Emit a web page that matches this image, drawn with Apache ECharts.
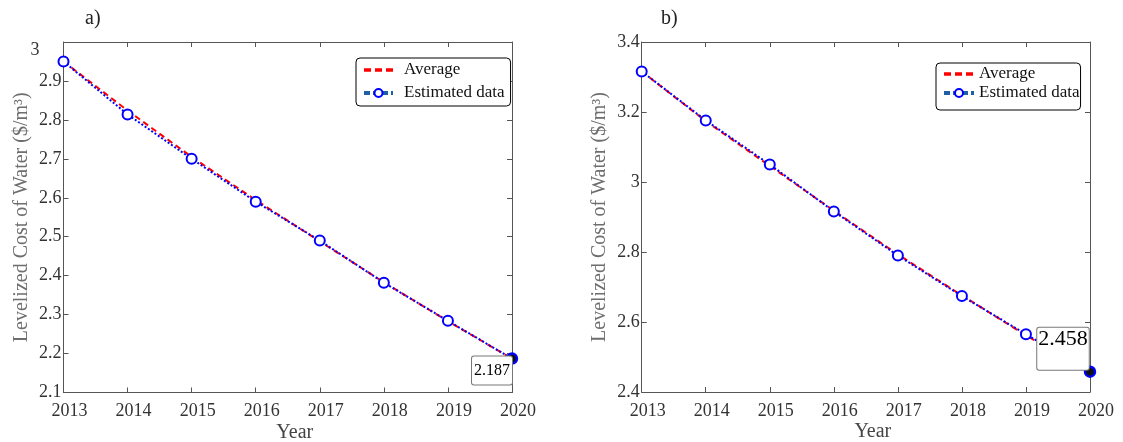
<!DOCTYPE html>
<html><head><meta charset="utf-8">
<script src="https://cdn.jsdelivr.net/npm/echarts@6/dist/echarts.min.js"></script>
<style>html,body{margin:0;padding:0;background:#fff}#c{width:1123px;height:442px}</style>
</head><body><div id="c"></div>
<script>
// ---- data ----
const years = [2013, 2014, 2015, 2016, 2017, 2018, 2019, 2020];
const aEstimated = [2.950, 2.814, 2.700, 2.590, 2.490, 2.382, 2.284, 2.187];
const aAverage   = [2.950, 2.824, 2.705, 2.594, 2.488, 2.383, 2.283, 2.187];
const bEstimated = [3.316, 3.176, 3.050, 2.916, 2.790, 2.674, 2.565, 2.458];
const bAverage   = [3.316, 3.174, 3.046, 2.918, 2.793, 2.676, 2.562, 2.458];
const aYRange = [2.1, 3.0, 0.1];
const bYRange = [2.4, 3.4, 0.2];
const panelLabels = ['a)', 'b)'];
const annotations = ['2.187', '2.458'];
const seriesNames = ['Average', 'Estimated data'];
const xName = 'Year';
const yName = 'Levelized Cost of Water ($/m³)';

// ---- chart ----
const FONT = "'Liberation Serif', 'DejaVu Serif', serif";
const AX = '#555';
const chart = echarts.init(document.getElementById('c'), null, {renderer: 'canvas'});

const grids = [
  {left: 63.5, top: 42, width: 448.5, height: 350.5, outerBoundsMode: 'none', containLabel: false},
  {left: 641.7, top: 42, width: 448.3, height: 350, outerBoundsMode: 'none', containLabel: false}
];
const panels = [
  {est: aEstimated, avg: aAverage, yr: aYRange, ann: annotations[0]},
  {est: bEstimated, avg: bAverage, yr: bYRange, ann: annotations[1]}
];

const xAxis = [], yAxis = [], series = [];
panels.forEach((p, i) => {
  const base = {
    gridIndex: i, type: 'value', min: years[0], max: years[years.length - 1], interval: 1,
    axisLine: {show: true, onZero: false, lineStyle: {color: AX, width: 1}},
    axisTick: {show: true, inside: true, length: 5, lineStyle: {color: AX}},
    splitLine: {show: false}
  };
  xAxis.push(Object.assign({}, base, {
    position: 'bottom',
    axisLabel: {fontFamily: FONT, fontSize: 18, color: '#333', margin: 10, padding: [0, 0, 0, 12],
      formatter: v => String(v)},
    name: xName, nameLocation: 'middle', nameGap: 30, nameMoveOverlap: false,
    nameTextStyle: {fontFamily: FONT, fontSize: 20, color: '#444', padding: [0, 0, 0, 14]}
  }));
  xAxis.push(Object.assign({}, base, {position: 'top', axisLabel: {show: false}}));
  const ybase = {
    gridIndex: i, type: 'value', min: p.yr[0], max: p.yr[1], interval: p.yr[2],
    axisLine: {show: true, onZero: false, lineStyle: {color: AX, width: 1}},
    axisTick: {show: true, inside: true, length: 5, lineStyle: {color: AX}},
    splitLine: {show: false}
  };
  const isA = i === 0;
  yAxis.push(Object.assign({}, ybase, {
    position: 'left',
    axisLabel: {fontFamily: FONT, fontSize: 18, color: '#333', margin: 2,
      formatter: v => {
        const s = String(+v.toFixed(2));
        return (isA && Math.abs(v - p.yr[1]) < 1e-9) ? '{t|' + s + '}' : s;
      },
      rich: {t: {fontFamily: FONT, fontSize: 18, color: '#333', padding: [16, 22, 0, 0]}}
    },
    name: yName, nameLocation: 'middle', nameRotate: 90, nameGap: 32, nameMoveOverlap: false,
    nameTextStyle: {fontFamily: FONT, fontSize: 20, color: '#6e6e6e'}
  }));
  yAxis.push(Object.assign({}, ybase, {position: 'right', axisLabel: {show: false}}));

  const last = years.length - 1;
  series.push({
    name: seriesNames[0], type: 'line', xAxisIndex: 2 * i, yAxisIndex: 2 * i,
    data: years.map((y, k) => [y, p.avg[k]]),
    symbol: 'none', z: 2,
    lineStyle: {color: '#ff0000', width: 2, type: [6, 4]}
  });
  series.push({
    name: seriesNames[1], type: 'line', xAxisIndex: 2 * i, yAxisIndex: 2 * i,
    data: years.map((y, k) => k === last
      ? {value: [y, p.est[k]], symbol: 'circle', itemStyle: {color: '#111', borderColor: '#0000ff', borderWidth: 2.5}}
      : [y, p.est[k]]),
    symbol: 'emptyCircle', symbolSize: 10, z: 3,
    itemStyle: {color: '#0000ff', borderWidth: 2.5},
    lineStyle: {color: '#0000ff', width: 2, type: [2, 2]},
    markPoint: {
      symbol: 'circle', symbolSize: 1, itemStyle: {color: 'rgba(0,0,0,0)'},
      data: [{coord: [years[last], p.est[last]], value: p.ann}],
      label: isA
        ? {show: true, formatter: p.ann, position: 'inside', offset: [-20, 12],
           fontFamily: FONT, fontSize: 16, color: '#000', backgroundColor: '#fff',
           borderColor: '#777', borderWidth: 1, borderRadius: 2, padding: [6, 2, 6, 2]}
        : {show: true, formatter: '{v|' + p.ann + '}\n{s| }', position: 'inside', offset: [-27, -23],
           backgroundColor: '#fff', borderColor: '#777', borderWidth: 1, borderRadius: 2, padding: [0, 1, 0, 1],
           rich: {v: {fontFamily: FONT, fontSize: 22, lineHeight: 24, color: '#000'},
                  s: {fontSize: 10, lineHeight: 18}}}
    }
  });
});

const legendData = [
  {name: seriesNames[0], lineStyle: {color: '#ff0000', width: 3.5, type: [7, 4]},
   itemStyle: {opacity: 0}},
  {name: seriesNames[1], lineStyle: {color: '#1f5fa6', width: 4, type: [6, 3]},
   itemStyle: {color: '#0000ff', borderColor: '#0000ff', borderWidth: 2.5}}
];
const legendBase = {
  orient: 'vertical', data: legendData, itemHeight: 10,
  borderColor: '#000', borderWidth: 1, borderRadius: 4, backgroundColor: '#fff',
  selectedMode: false
};

chart.setOption({
  animation: false,
  title: [
    {text: panelLabels[0], left: 80, top: 4, textStyle: {fontFamily: FONT, fontSize: 20, fontWeight: 'normal', color: '#222'}},
    {text: panelLabels[1], left: 656, top: 4, textStyle: {fontFamily: FONT, fontSize: 20, fontWeight: 'normal', color: '#222'}}
  ],
  legend: [
    Object.assign({}, legendBase, {left: 356, top: 58, itemWidth: 29, itemGap: 5, padding: [3, 6, 4, 6],
      textStyle: {fontFamily: FONT, fontSize: 17, lineHeight: 18, color: '#111', padding: [0, 0, 0, 6]}}),
    Object.assign({}, legendBase, {left: 936, top: 63, itemWidth: 30, itemGap: 1, padding: [2, 1, 8, 6],
      textStyle: {fontFamily: FONT, fontSize: 17, lineHeight: 18, color: '#111'}})
  ],
  grid: grids,
  xAxis: xAxis,
  yAxis: yAxis,
  series: series
});
</script>
</body></html>
